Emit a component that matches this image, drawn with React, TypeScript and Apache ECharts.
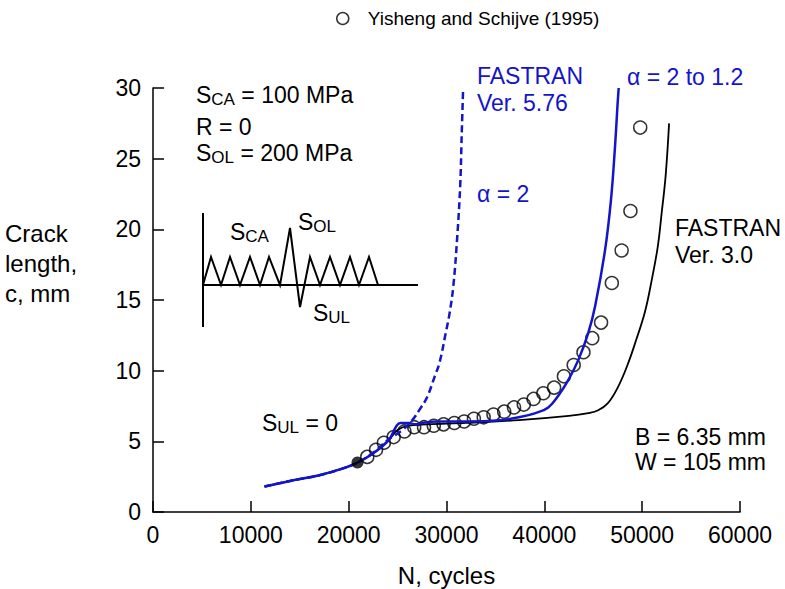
import React, { useEffect, useRef } from "react";
import * as echarts from "echarts";

// ---- Data ----
const xTicks = [0, 10000, 20000, 30000, 40000, 50000, 60000];
const yTicks = [0, 5, 10, 15, 20, 25, 30];

// Yisheng and Schijve (1995) test data
const expN = [21900, 22800, 23600, 24600, 25700, 26700, 27700, 28700, 29700, 30800, 31800, 32800, 33800, 34800, 35900, 36900, 37900, 38900, 39900, 41000, 42000, 43000, 44000, 44900, 45800, 46900, 47900, 48800, 49800];
const expC = [3.9, 4.4, 4.9, 5.3, 5.7, 6.0, 6.0, 6.1, 6.2, 6.3, 6.4, 6.6, 6.7, 6.9, 7.1, 7.4, 7.6, 8.0, 8.4, 8.8, 9.6, 10.4, 11.3, 12.3, 13.4, 16.2, 18.5, 21.3, 27.2];

// Start point (filled)
const startN = [20900];
const startC = [3.5];

// FASTRAN Ver. 5.76, alpha = 2 to 1.2 (solid blue)
const v576N = [11400, 14000, 17000, 19500, 20900, 22600, 24100, 24900, 25300, 26100, 26800, 27500, 29000, 32300, 35500, 37400, 39100, 40400, 41500, 42500, 43500, 44500, 45200, 46200, 46800, 47200, 47500, 47600];
const v576C = [1.8, 2.2, 2.6, 3.1, 3.5, 4.2, 5.1, 6.1, 6.3, 6.3, 6.2, 6.3, 6.4, 6.4, 6.5, 6.7, 7.0, 7.4, 8.3, 9.4, 10.8, 12.7, 14.6, 18.5, 22.0, 25.6, 29.0, 30.0];

// FASTRAN Ver. 5.76, alpha = 2 (dashed blue)
const a2N = [11400, 14000, 17000, 19500, 20900, 22500, 24000, 25500, 26500, 27300, 28000, 28800, 29300, 29900, 30300, 30700, 31100, 31400, 31550, 31700];
const a2C = [1.8, 2.2, 2.6, 3.1, 3.5, 4.2, 5.1, 5.8, 6.5, 7.3, 8.1, 9.6, 10.6, 12.6, 14.0, 16.0, 19.5, 23.1, 26.6, 30.0];

// FASTRAN Ver. 3.0 (solid black)
const v30N = [11400, 14000, 17000, 19500, 20900, 22600, 24100, 25000, 26000, 28000, 32000, 37400, 42500, 44500, 45500, 46500, 47500, 48500, 49400, 50300, 51000, 51600, 52000, 52400, 52750];
const v30C = [1.8, 2.2, 2.6, 3.1, 3.5, 4.2, 5.1, 5.8, 6.1, 6.2, 6.3, 6.5, 6.8, 7.0, 7.2, 7.7, 8.8, 10.4, 12.2, 14.2, 16.5, 18.8, 21.2, 23.8, 27.5];

const zip = (a: number[], b: number[]) => a.map((v, i) => [v, b[i]]);

const BLUE = "#1414c8";
const FONT = "Liberation Sans, Arial, Helvetica, sans-serif";
const FS = 23;

const rich = (color: string) => ({
  n: { fontSize: FS, fontFamily: FONT, fill: color, color, lineHeight: 26 },
  s: { fontSize: 17, fontFamily: FONT, fill: color, color, lineHeight: 12, verticalAlign: "bottom" as const },
});

const txt = (text: string, x: number, y: number, color = "#000") => ({
  type: "text",
  x,
  y,
  silent: true,
  style: {
    text,
    rich: rich(color),
    fill: color,
    font: `${FS}px ${FONT}`,
    verticalAlign: "middle",
    align: "left",
  },
});

// load sequence sketch (schematic, pixel coords)
const zigzag = [
  [203, 285], [211, 257], [221, 285], [230, 257], [240, 285], [250, 257], [260, 285], [269, 257], [280, 285],
  [290, 228], [300, 307], [310, 257], [320, 285], [330, 257], [340, 285], [350, 257], [359, 285], [369, 257], [378, 285],
];

export default function App() {
  const ref = useRef<HTMLDivElement>(null);
  useEffect(() => {
    if (!ref.current) return;
    const chart = echarts.init(ref.current, undefined, { renderer: "svg" });
    chart.setOption({
      animation: false,
      backgroundColor: "#fff",
      grid: { left: 153, right: 45, top: 88, bottom: 77, containLabel: false, outerBoundsMode: "none" },
      legend: {
        data: [{ name: "Yisheng and Schijve (1995)", icon: "circle" }],
        left: 331,
        top: 4,
        itemWidth: 12,
        itemHeight: 12,
        itemStyle: { color: "#fff", borderColor: "#000", borderWidth: 1.5 },
        textStyle: { fontSize: 19, fontFamily: FONT, color: "#000", padding: [0, 0, 0, 14] },
        selectedMode: false,
      },
      xAxis: {
        type: "value",
        min: xTicks[0],
        max: xTicks[xTicks.length - 1],
        interval: xTicks[1] - xTicks[0],
        name: "N, cycles",
        nameLocation: "middle",
        nameGap: 51,
        nameTextStyle: { fontSize: 24, fontFamily: FONT, color: "#000" },
        axisLine: { show: true, onZero: false, lineStyle: { color: "#000", width: 1.5 } },
        axisTick: { show: true, inside: true, length: 11, lineStyle: { color: "#000", width: 1.5 } },
        axisLabel: { fontSize: FS, fontFamily: FONT, color: "#000", margin: 11, formatter: (v: number) => String(v) },
        splitLine: { show: false },
      },
      yAxis: {
        type: "value",
        min: yTicks[0],
        max: yTicks[yTicks.length - 1],
        interval: yTicks[1] - yTicks[0],
        axisLine: { show: true, onZero: false, lineStyle: { color: "#000", width: 1.5 } },
        axisTick: { show: true, inside: true, length: 11, lineStyle: { color: "#000", width: 1.5 } },
        axisLabel: { fontSize: FS, fontFamily: FONT, color: "#000", margin: 12 },
        splitLine: { show: false },
      },
      series: [
        {
          name: "Yisheng and Schijve (1995)",
          type: "scatter",
          data: zip(expN, expC),
          symbol: "circle",
          symbolSize: 13,
          itemStyle: { color: "rgba(255,255,255,0)", borderColor: "#000", borderWidth: 1.5 },
          z: 2,
        },
        {
          name: "start",
          type: "scatter",
          data: zip(startN, startC),
          symbol: "circle",
          symbolSize: 12,
          itemStyle: { color: "#000" },
          z: 5,
        },
        {
          name: "FASTRAN Ver. 3.0",
          type: "line",
          data: zip(v30N, v30C),
          smooth: 0.4,
          showSymbol: false,
          lineStyle: { color: "#000", width: 1.8 },
          z: 3,
        },
        {
          name: "alpha = 2",
          type: "line",
          data: zip(a2N, a2C),
          smooth: 0.4,
          showSymbol: false,
          lineStyle: { color: BLUE, width: 2.5, type: [7, 4] },
          z: 4,
        },
        {
          name: "alpha = 2 to 1.2",
          type: "line",
          data: zip(v576N, v576C),
          smooth: 0.4,
          showSymbol: false,
          lineStyle: { color: BLUE, width: 2.5 },
          z: 4,
        },
      ],
      graphic: [
        txt("{n|S}{s|CA}{n| = 100 MPa}", 196, 95),
        txt("{n|R = 0}", 196, 127),
        txt("{n|S}{s|OL}{n| = 200 MPa}", 196, 153),
        txt("{n|S}{s|CA}", 230, 232),
        txt("{n|S}{s|OL}", 298, 222),
        txt("{n|S}{s|UL}", 313, 313),
        txt("{n|S}{s|UL}{n| = 0}", 262, 423),
        txt("{n|FASTRAN}", 477, 76, BLUE),
        txt("{n|Ver. 5.76}", 477, 103, BLUE),
        txt("{n|α = 2 to 1.2}", 627, 77, BLUE),
        txt("{n|α = 2}", 477, 194, BLUE),
        txt("{n|FASTRAN}", 675, 228),
        txt("{n|Ver. 3.0}", 675, 255),
        txt("{n|B = 6.35 mm}", 635, 437),
        txt("{n|W = 105 mm}", 635, 462),
        {
          type: "text",
          x: 5,
          y: 218,
          silent: true,
          style: { text: "Crack\nlength,\nc, mm", font: `24px ${FONT}`, fill: "#000", lineHeight: 30, verticalAlign: "top" },
        },
        { type: "line", silent: true, shape: { x1: 203, y1: 213, x2: 203, y2: 327 }, style: { stroke: "#000", lineWidth: 2 } },
        { type: "line", silent: true, shape: { x1: 203, y1: 285, x2: 418, y2: 285 }, style: { stroke: "#000", lineWidth: 2 } },
        { type: "polyline", silent: true, shape: { points: zigzag }, style: { stroke: "#000", lineWidth: 2, fill: null } },
      ],
    });
    return () => chart.dispose();
  }, []);
  return <div ref={ref} style={{ position: "absolute", left: 0, top: 0, width: 785, height: 589 }} />;
}
